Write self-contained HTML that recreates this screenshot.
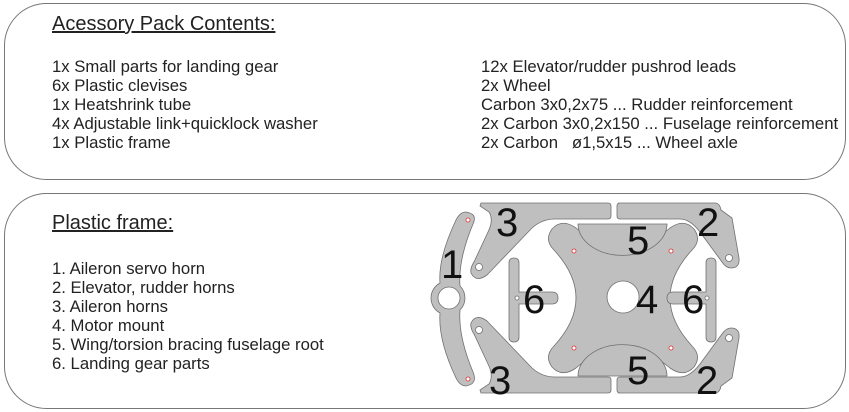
<!DOCTYPE html>
<html><head><meta charset="utf-8"><style>
html,body{margin:0;padding:0;background:#fff;width:849px;height:412px;overflow:hidden}
svg{display:block;font-family:"Liberation Sans",sans-serif}
</style></head><body>
<svg width="849" height="412" viewBox="0 0 849 412" xmlns="http://www.w3.org/2000/svg">
<rect x="4.5" y="3.5" width="841" height="176" rx="42" fill="#fff" stroke="#777" stroke-width="1"/>
<rect x="4.5" y="193.5" width="841" height="215" rx="42" fill="#fff" stroke="#777" stroke-width="1"/>
<g fill="#222" font-size="20">
<text x="52" y="30" text-decoration="underline">Acessory Pack Contents:</text>
<text x="52" y="229" text-decoration="underline">Plastic frame:</text>
</g>
<g fill="#222" font-size="16.7">
<text x="52" y="72">1x Small parts for landing gear</text>
<text x="52" y="91">6x Plastic clevises</text>
<text x="52" y="110">1x Heatshrink tube</text>
<text x="52" y="129">4x Adjustable link+quicklock washer</text>
<text x="52" y="148">1x Plastic frame</text>
<text x="481" y="72">12x Elevator/rudder pushrod leads</text>
<text x="481" y="91">2x Wheel</text>
<text x="481" y="110">Carbon 3x0,2x75 ... Rudder reinforcement</text>
<text x="481" y="129">2x Carbon 3x0,2x150 ... Fuselage reinforcement</text>
<text x="481" y="148">2x Carbon &#160;&#160;ø1,5x15 ... Wheel axle</text>
<text x="52" y="274">1. Aileron servo horn</text>
<text x="52" y="293">2. Elevator, rudder horns</text>
<text x="52" y="312">3. Aileron horns</text>
<text x="52" y="331">4. Motor mount</text>
<text x="52" y="350">5. Wing/torsion bracing fuselage root</text>
<text x="52" y="369">6. Landing gear parts</text>
</g>
<g fill="#bfbfbf" stroke="#707070" stroke-width="0.8">
<path d="M466,212 Q478,214 473,224 Q458,260 460,286 A17,17 0 0 1 460,310 Q458,336 473,372 Q478,384 466,386 Q460,386 456,378 Q438,340 440,313 A17,17 0 0 1 440,283 Q438,258 456,220 Q460,212 466,212 Z"/>
<path d="M481,203 L608,203 Q611,203 611,206 L611,216 Q611,219 608,219 L555,219 Q542,219 532,228 L487,275 Q476,283 471,273 Q470,268 474,262 L488,232 Q494,220 489,212 L480,206 Z"/>
<path d="M481,393 L608,393 Q611,393 611,390 L611,380 Q611,377 608,377 L555,377 Q542,377 532,368 L487,321 Q476,313 471,323 Q470,328 474,334 L488,364 Q494,376 489,384 L480,390 Z"/>
<path d="M618,203 L716,203 Q720,204 721,210 L732,218 L739,258 Q740,268 731,268 Q726,268 722,262 L700,232 Q690,219 680,219 L620,219 Q617,219 617,216 L617,206 Q617,203 620,203 Z"/>
<path d="M618,393 L716,393 Q720,392 721,386 L732,378 L739,338 Q740,328 731,328 Q726,328 722,334 L700,364 Q690,377 680,377 L620,377 Q617,377 617,380 L617,390 Q617,393 620,393 Z"/>
<path fill-rule="evenodd" d="M552,229 Q562,218 576,228 Q622,268 670,228 Q684,218 694,229 Q702,240 692,250 Q648,298 692,346 Q702,356 694,367 Q684,378 670,368 Q622,328 576,368 Q562,378 552,367 Q544,356 554,346 Q598,298 554,250 Q544,240 552,229 Z M623,281 A16,16 0 1 0 623.1,281 Z"/>
<path d="M578,224 L667,224 A44,31 0 0 1 578,224 Z"/>
<path d="M578,376 L667,376 A44,31 0 0 0 578,376 Z"/>
<path d="M509,263 Q509,258 514,258 Q519,258 519,263 L519,292 L552,292 Q558,292 558,298 Q558,304 552,304 L519,304 L519,337 Q519,342 514,342 Q509,342 509,337 Z"/>
<path d="M716,263 Q716,258 711,258 Q706,258 706,263 L706,292 L673,292 Q667,292 667,298 Q667,304 673,304 L706,304 L706,337 Q706,342 711,342 Q716,342 716,337 Z"/>
</g>
<g fill="#fff" stroke="#707070" stroke-width="0.8">
<circle cx="449" cy="298" r="11"/>
<circle cx="479" cy="267" r="3.5"/>
<circle cx="479" cy="330" r="3.5"/>
<circle cx="729" cy="258" r="3.5"/>
<circle cx="729" cy="338" r="3.5"/>
<circle cx="517" cy="298" r="2"/>
<circle cx="707" cy="298" r="2"/>
</g>
<g fill="#fff" stroke="#e03030" stroke-width="0.8">
<circle cx="468" cy="220" r="2"/><circle cx="468" cy="379" r="2"/>
<circle cx="574" cy="251" r="2"/><circle cx="671" cy="251" r="2"/>
<circle cx="574" cy="348" r="2"/><circle cx="671" cy="348" r="2"/>
</g>
<g fill="#111" font-size="40">
<text x="496" y="236">3</text>
<text x="697" y="236">2</text>
<text x="441" y="278">1</text>
<text x="627" y="254">5</text>
<text x="523" y="313">6</text>
<text x="636" y="313">4</text>
<text x="682" y="313">6</text>
<text x="627" y="384">5</text>
<text x="489" y="394">3</text>
<text x="696" y="394">2</text>
</g>
</svg>
</body></html>
